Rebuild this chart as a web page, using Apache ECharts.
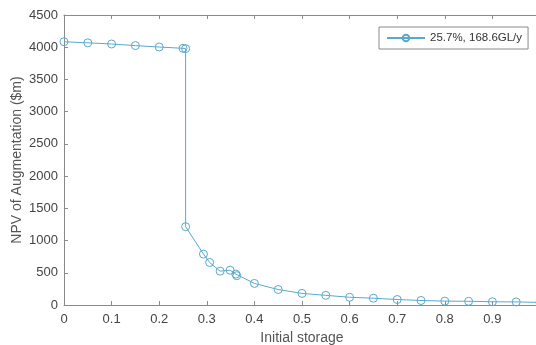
<!DOCTYPE html>
<html><head><meta charset="utf-8">
<script src="https://cdn.jsdelivr.net/npm/echarts@6/dist/echarts.min.js"></script>
<style>html,body{margin:0;padding:0;background:#fff}#c{width:536px;height:345px}</style>
</head><body><div id="c"></div>
<script>
const storage = [0, 0.05, 0.1, 0.15, 0.2, 0.25, 0.2555, 0.2555, 0.293, 0.306, 0.328, 0.349, 0.361, 0.363, 0.40, 0.45, 0.50, 0.55, 0.60, 0.65, 0.70, 0.75, 0.80, 0.85, 0.90, 0.95, 1.00];
const npv = [4085, 4068, 4050, 4025, 4003, 3983, 3978, 1215, 790, 660, 525, 540, 480, 455, 335, 240, 180, 150, 120, 105, 85, 70, 60, 58, 50, 48, 40];
const seriesName = '25.7%, 168.6GL/y';
const xTitle = 'Initial storage';
const yTitle = 'NPV of Augmentation ($m)';

const font = 'Liberation Sans, Arial, Helvetica, sans-serif';
const axisCol = '#8a8a8a';
const lineCol = '#5aa8cb';
const chart = echarts.init(document.getElementById('c'), null, {renderer: 'canvas'});
function common() {
  return {
    axisLine: {show: true, onZero: false, lineStyle: {color: axisCol, width: 1}},
    axisTick: {show: true, inside: true, length: 4, lineStyle: {color: axisCol}},
    splitLine: {show: false}
  };
}
chart.setOption({
  animation: false,
  grid: {left: 64, top: 15, right: -4, bottom: 40, containLabel: false, outerBoundsMode: 'none'},
  legend: {
    show: true, left: 379, top: 27, orient: 'horizontal',
    padding: [5, 6, 5, 7], borderColor: '#8a8a8a', borderWidth: 1, borderRadius: 0,
    backgroundColor: '#fff',
    itemWidth: 38, itemHeight: 8, itemGap: 4,
    textStyle: {fontFamily: font, fontSize: 11.5, color: '#333'},
    data: [seriesName]
  },
  xAxis: [
    Object.assign({type: 'value', min: 0, max: 1, interval: 0.1, position: 'bottom',
      name: xTitle, nameLocation: 'middle', nameGap: 26, nameMoveOverlap: false,
      nameTextStyle: {fontFamily: font, fontSize: 14, color: '#555'},
      axisLabel: {fontFamily: font, fontSize: 13, color: '#444', margin: 8,
        formatter: v => String(Math.round(v * 10) / 10)}}, common()),
    Object.assign({type: 'value', min: 0, max: 1, interval: 0.1, position: 'top',
      axisLabel: {show: false}}, common())
  ],
  yAxis: [
    Object.assign({type: 'value', min: 0, max: 4500, interval: 500, position: 'left',
      name: yTitle, nameLocation: 'middle', nameGap: 40, nameMoveOverlap: false,
      nameTextStyle: {fontFamily: font, fontSize: 14, color: '#555'},
      axisLabel: {fontFamily: font, fontSize: 13, color: '#444', margin: 6,
        formatter: v => String(v)}}, common()),
    Object.assign({type: 'value', min: 0, max: 4500, interval: 500, position: 'right',
      axisLabel: {show: false}}, common())
  ],
  series: [{
    name: seriesName, type: 'line',
    data: storage.map((x, i) => [x, npv[i]]),
    symbol: 'circle', symbolSize: 8, showAllSymbol: true,
    lineStyle: {color: lineCol, width: 1},
    itemStyle: {color: 'rgba(255,255,255,0)', borderColor: lineCol, borderWidth: 1},
    clip: false
  }]
});
</script></body></html>
